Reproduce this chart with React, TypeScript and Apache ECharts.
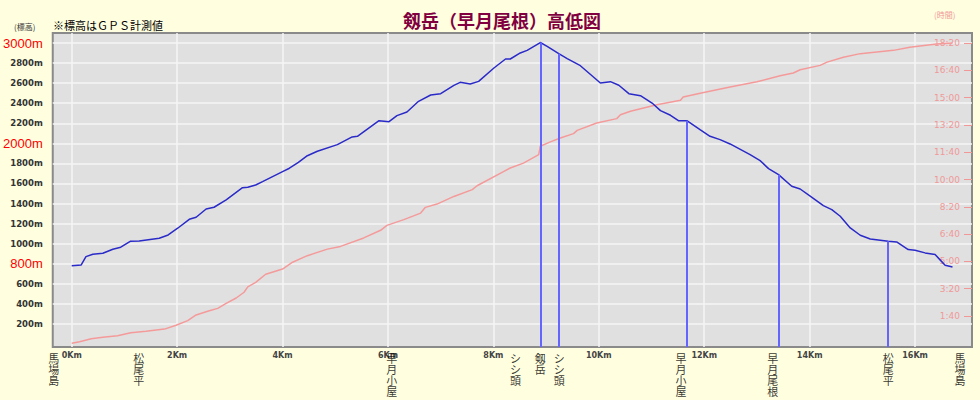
import { useEffect, useRef } from "react";
import * as echarts from "echarts";

// Elevation profile (distance km, elevation m)
const elevKm = [0, 0.18, 0.27, 0.4, 0.59, 0.78, 0.93, 1.11, 1.28, 1.66, 1.83, 2.01, 2.23, 2.36, 2.55, 2.7, 2.93, 3.24, 3.34, 3.49, 3.62, 3.81, 4.0, 4.13, 4.3, 4.47, 4.66, 5.04, 5.32, 5.42, 5.83, 6.02, 6.17, 6.36, 6.58, 6.81, 7.0, 7.25, 7.37, 7.56, 7.72, 8.01, 8.23, 8.32, 8.51, 8.64, 8.89, 9.02, 9.24, 9.4, 9.65, 10.03, 10.22, 10.38, 10.57, 10.79, 11.01, 11.17, 11.36, 11.51, 11.67, 11.92, 12.11, 12.3, 12.49, 12.87, 13.06, 13.22, 13.41, 13.66, 13.82, 14.01, 14.26, 14.42, 14.58, 14.77, 14.96, 15.15, 15.49, 15.65, 15.87, 16.0, 16.19, 16.38, 16.47, 16.57, 16.71];
const elevM = [781, 788, 871, 895, 905, 945, 965, 1024, 1027, 1054, 1087, 1154, 1243, 1263, 1346, 1363, 1436, 1558, 1562, 1585, 1618, 1668, 1718, 1752, 1810, 1877, 1921, 1987, 2064, 2070, 2226, 2216, 2276, 2313, 2419, 2482, 2495, 2578, 2608, 2592, 2618, 2751, 2841, 2841, 2901, 2927, 3005, 2967, 2894, 2844, 2774, 2602, 2615, 2579, 2495, 2475, 2402, 2326, 2280, 2226, 2226, 2136, 2070, 2037, 1994, 1887, 1828, 1748, 1688, 1572, 1545, 1473, 1379, 1339, 1273, 1157, 1084, 1047, 1024, 1017, 941, 935, 908, 891, 841, 785, 768];

// Elapsed time (distance km, minutes)
const timeKm = [0, 0.15, 0.37, 0.59, 0.87, 1.12, 1.41, 1.76, 1.98, 2.2, 2.36, 2.61, 2.77, 2.93, 3.12, 3.27, 3.34, 3.49, 3.68, 4.0, 4.19, 4.47, 4.85, 5.1, 5.54, 5.86, 5.98, 6.3, 6.62, 6.71, 6.93, 7.25, 7.6, 7.69, 8.2, 8.32, 8.57, 8.86, 8.89, 9.08, 9.27, 9.52, 9.59, 9.96, 10.34, 10.41, 10.6, 11.1, 11.55, 11.6, 11.99, 12.49, 13.0, 13.44, 13.69, 13.82, 14.2, 14.33, 14.64, 14.96, 15.59, 15.9, 16.41, 16.71];
const timeMin = [0, 6, 17, 22, 28, 39, 44, 52, 66, 83, 104, 119, 128, 146, 166, 187, 207, 223, 253, 272, 297, 321, 345, 355, 386, 414, 432, 453, 477, 498, 510, 538, 563, 577, 630, 642, 660, 691, 722, 738, 752, 768, 780, 807, 823, 837, 850, 874, 890, 902, 919, 939, 958, 980, 990, 1002, 1018, 1030, 1048, 1061, 1073, 1084, 1096, 1100];

// Waypoint marker lines
const markerKm = [8.89, 9.24, 11.67, 13.41, 15.49];
const markerElev = [3005, 2894, 2226, 1688, 1024];

// Place labels under the axis
const placeNames = ["馬場島", "松尾平", "早月小屋", "シシ頭", "剱岳", "シシ頭", "早月小屋", "早月尾根", "松尾平", "馬場島"];
const placeKm = [-0.34, 1.27, 6.07, 8.42, 8.89, 9.25, 11.56, 13.3, 15.49, 16.85];

// Axis ticks
const elevTicks = [200, 400, 600, 800, 1000, 1200, 1400, 1600, 1800, 2000, 2200, 2400, 2600, 2800, 3000];
const elevHighlight = [800, 2000, 3000];
const timeTicks = [100, 200, 300, 400, 500, 600, 700, 800, 900, 1000, 1100];
const kmTicks = [0, 2, 4, 6, 8, 10, 12, 14, 16];

const TITLE = "剱岳（早月尾根）高低図";
const NOTE = "※標高はＧＰＳ計測値";

export default function App() {
  const ref = useRef<HTMLDivElement>(null);
  useEffect(() => {
    if (!ref.current) return;
    const chart = echarts.init(ref.current, null, { renderer: "svg" });
    const jp = "'Noto Sans CJK JP', sans-serif";
    const num = "'DejaVu Sans', sans-serif";
    const fmtTime = (v: number) => `${Math.floor(v / 60)}:${String(v % 60).padStart(2, "0")}`;
    const Y_MIN = -30;

    chart.setOption({
      animation: false,
      backgroundColor: "#ffffe0",
      title: {
        text: TITLE,
        left: 398,
        top: 6,
        textStyle: { color: "#800040", fontSize: 18, fontWeight: "bold", fontFamily: jp },
      },
      graphic: [
        { type: "text", left: 53, top: 19, style: { text: NOTE, fontSize: 11, fill: "#000", fontFamily: jp } },
        { type: "text", left: 14, top: 22, style: { text: "(標高)", fontSize: 8, fill: "#333", fontFamily: jp } },
        { type: "text", left: 934, top: 10, style: { text: "(時間)", fontSize: 8, fill: "#f09898", fontFamily: jp } },
      ],
      grid: {
        left: 52,
        right: 8,
        top: 33,
        bottom: 53,
        show: true,
        backgroundColor: "#e0e0e0",
        borderColor: "#8a8a8a",
        borderWidth: 2,
      },
      xAxis: {
        type: "value",
        min: -0.36,
        max: 17.08,
        axisLine: { show: false },
        axisTick: { show: false, customValues: kmTicks },
        axisLabel: {
          customValues: kmTicks,
          formatter: (v: number) => `${v}Km`,
          fontSize: 8,
          fontWeight: "bold",
          color: "#444",
          fontFamily: num,
          margin: 4,
        },
        splitLine: { show: true, lineStyle: { color: "#f6f6f6", width: 1.5 } },
      },
      yAxis: [
        {
          type: "value",
          min: Y_MIN,
          max: 3100,
          axisLine: { show: false },
          axisTick: { show: false, customValues: elevTicks },
          axisLabel: {
            customValues: elevTicks,
            margin: 10,
            formatter: (v: number) => (elevHighlight.includes(v) ? `{r|${v}m}` : `{b|${v}m}`),
            rich: {
              r: { color: "#ff0000", fontSize: 13, fontFamily: "'Liberation Sans Narrow', 'Liberation Sans', sans-serif" },
              b: { color: "#333", fontSize: 8.5, fontWeight: "bold", fontFamily: num },
            },
          },
          splitLine: { show: true, lineStyle: { color: "#f6f6f6", width: 1.5 } },
        },
        {
          type: "value",
          position: "right",
          min: -13.5,
          max: 1136.6,
          axisLine: { show: false },
          splitLine: { show: false },
          axisTick: { show: true, inside: true, length: 8, customValues: timeTicks, lineStyle: { color: "#f09898" } },
          axisLabel: {
            inside: true,
            customValues: timeTicks,
            margin: 12,
            formatter: fmtTime,
            color: "#f09898",
            fontSize: 9,
            fontFamily: num,
          },
        },
      ],
      series: [
        {
          type: "line",
          yAxisIndex: 1,
          data: timeKm.map((k, i) => [k, timeMin[i]]),
          symbol: "none",
          lineStyle: { color: "#f59a9a", width: 1.5 },
          silent: true,
        },
        {
          type: "line",
          yAxisIndex: 0,
          data: elevKm.map((k, i) => [k, elevM[i]]),
          symbol: "none",
          lineStyle: { color: "#2a2ac8", width: 1.5 },
          silent: true,
          markLine: {
            silent: true,
            symbol: "none",
            label: { show: false },
            lineStyle: { color: "#6464ff", width: 2, type: "solid" },
            data: markerKm.map((k, i) => [
              { coord: [k, markerElev[i]] },
              { coord: [k, Y_MIN] },
            ]),
          },
        },
        {
          type: "scatter",
          yAxisIndex: 0,
          clip: false,
          symbolSize: 0,
          silent: true,
          data: placeKm.map((k, i) => ({ value: [k, Y_MIN], name: placeNames[i] })),
          label: {
            show: true,
            position: "bottom",
            distance: 5,
            formatter: (p: any) => p.name.split("").join("\n"),
            fontSize: 11,
            lineHeight: 11,
            color: "#000",
            fontFamily: jp,
          },
        },
      ],
    });
    return () => chart.dispose();
  }, []);
  return <div ref={ref} style={{ position: "fixed", left: 0, top: 0, width: 980, height: 400 }} />;
}
